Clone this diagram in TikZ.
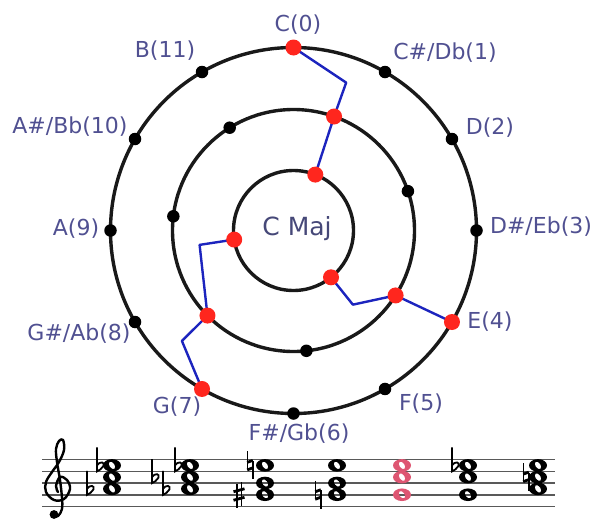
\documentclass[tikz,border=0pt]{standalone}
\usepackage{fontspec}
\usepackage{xcolor}
\usepackage{tikz}
\usetikzlibrary{backgrounds}
\newfontfamily\lblfont{DejaVu Sans}

\definecolor{lblblue}{RGB}{80,80,145}
\definecolor{majblue}{RGB}{70,72,120}
\definecolor{dotred}{RGB}{255,38,30}
\definecolor{pathblue}{RGB}{28,36,190}
\definecolor{chordred}{RGB}{222,86,114}

\begin{document}
\begin{tikzpicture}[
  x=1pt, y=-1pt,
  ring/.style={line width=3.4pt, black!90},
  bdot/.style={circle, fill=black, inner sep=0pt, minimum size=12.5pt},
  rdot/.style={circle, fill=dotred, inner sep=0pt, minimum size=16pt},
  lbl/.style={text=lblblue, font=\lblfont\fontsize{22}{24}\selectfont, inner sep=1pt},
  link/.style={line width=2.4pt, pathblue, line join=round},
  staff/.style={line width=1.5pt, black!65},
  wnote/.pic={\fill[even odd rule] (0,0) circle[x radius=9, y radius=6.3]
    (0,0) circle[x radius=2.6, y radius=4.2, rotate=35];},
  flt/.pic={\draw[line width=1.8pt] (0,-18) -- (0,6) .. controls (2,5) and (5,3.5) .. (6.5,0.5)
    .. controls (8,-3.5) and (3,-4.5) .. (0,0);},
  shp/.pic={\draw[line width=1.4pt] (-2.2,13) -- (-2.2,-11) (2.2,11) -- (2.2,-13);
    \draw[line width=2.8pt] (-5.5,5.5) -- (5.5,2.5) (-5.5,-3) -- (5.5,-6);},
  ntl/.pic={\draw[line width=1.4pt] (-2.8,-14) -- (-2.8,4.5) (2.8,-4.5) -- (2.8,14);
    \draw[line width=2.8pt] (-2.8,-3) -- (2.8,-5) (-2.8,4.5) -- (2.8,2.5);}
]
\useasboundingbox (0,0) rectangle (597,525);

% rings
\begin{scope}[shift={(293.5,230.5)}, yscale=-1]
  \node[text=majblue, font=\lblfont\fontsize{25}{28}\selectfont] (cmaj) at (3.5,1.5) {C Maj};
  % chromatic ring
  \foreach \k/\ang/\st in {0/90/rdot, 1/60/bdot, 2/30/bdot, 3/0/bdot, 4/-30/rdot, 5/-60/bdot,
      6/-90/bdot, 7/-120/rdot, 8/-150/bdot, 9/180/bdot, 10/150/bdot, 11/120/bdot}
    \node[\st] (o\k) at (\ang:183) {};
  % ring of seven
  \foreach \j/\st [evaluate=\j as \ang using 70.4-360/7*\j] in {0/rdot, 1/bdot, 2/rdot, 3/bdot, 4/rdot, 5/bdot, 6/bdot}
    \node[\st] (m\j) at (\ang:121) {};
  % ring of three
  \foreach \i [evaluate=\i as \ang using 68.7-120*\i] in {0,1,2}
    \node[rdot] (i\i) at (\ang:60) {};
  \coordinate (e0) at (70.4:157);
  \coordinate (e1) at (-51.3:95);
  \coordinate (e2) at (-135.3:157);
  \coordinate (e3) at (188.7:95);
  \begin{pgfonlayer}{background}
    \draw[ring] (0,0) circle (183) (0,0) circle (121) (0,0) circle (60);
    \draw[link] (o0.center) -- (e0) -- (m0.center) -- (i0.center);
    \draw[link] (o4.center) -- (m2.center) -- (e1) -- (i1.center);
    \draw[link] (o7.center) -- (e2) -- (m4.center) -- (e3) -- (i2.center);
  \end{pgfonlayer}
\end{scope}

% pitch labels
\foreach \k/\lx/\ly/\txt in {0/298/25/{C(0)}, 1/445/53/{C\#/Db(1)}, 2/490/128/{D(2)},
    3/541/227/{D\#/Eb(3)}, 4/490/322/{E(4)}, 5/421/404/{F(5)}, 6/299/434/{F\#/Gb(6)},
    7/177/407/{G(7)}, 8/79/334/{G\#/Ab(8)}, 9/76/229/{A(9)}, 10/70/127/{A\#/Bb(10)}, 11/165/51/{B(11)}}
  \node[lbl] (t\k) at (\lx,\ly) {\txt};

% staff
\foreach \s in {0,...,4}
  \draw[staff] (42,{459.5+11.75*\s}) -- (555,{459.5+11.75*\s});
\draw[line width=2.4pt, line cap=round, line join=round] plot[smooth, tension=0.6] coordinates {
  (58,492) (56,486) (60,477) (67,480) (70,489) (64,499) (54,500) (46,492) (46,482) (52,472)
  (59,462) (64,450) (63,440) (59,441) (56,449) (57,462) (60,480) (62,498) (62,509) (58,516) (53,516)};
\fill (54,514.5) circle (4.4);

% chords
\foreach \cx/\ps in {112/{3,5,7}, 190/{3,5,7}, 265/{2,4,7}, 337/{2,4,7}, 468/{2,5,7}, 538/{3,5,7}}
  \foreach \p in \ps
    \pic at (\cx,{506.5-5.875*\p}) {wnote};
\foreach \p in {2,5,7}
  \pic[color=chordred] at (402,{506.5-5.875*\p}) {wnote};
\foreach \ax/\p in {97/7, 87/3, 175/7, 152/5, 163/3, 452/7}
  \pic at (\ax,{506.5-5.875*\p}) {flt};
\foreach \ax/\p in {250/7, 318/2, 526/5}
  \pic at (\ax,{506.5-5.875*\p}) {ntl};
\pic at (239,{506.5-5.875*2}) {shp};
\end{tikzpicture}
\end{document}
